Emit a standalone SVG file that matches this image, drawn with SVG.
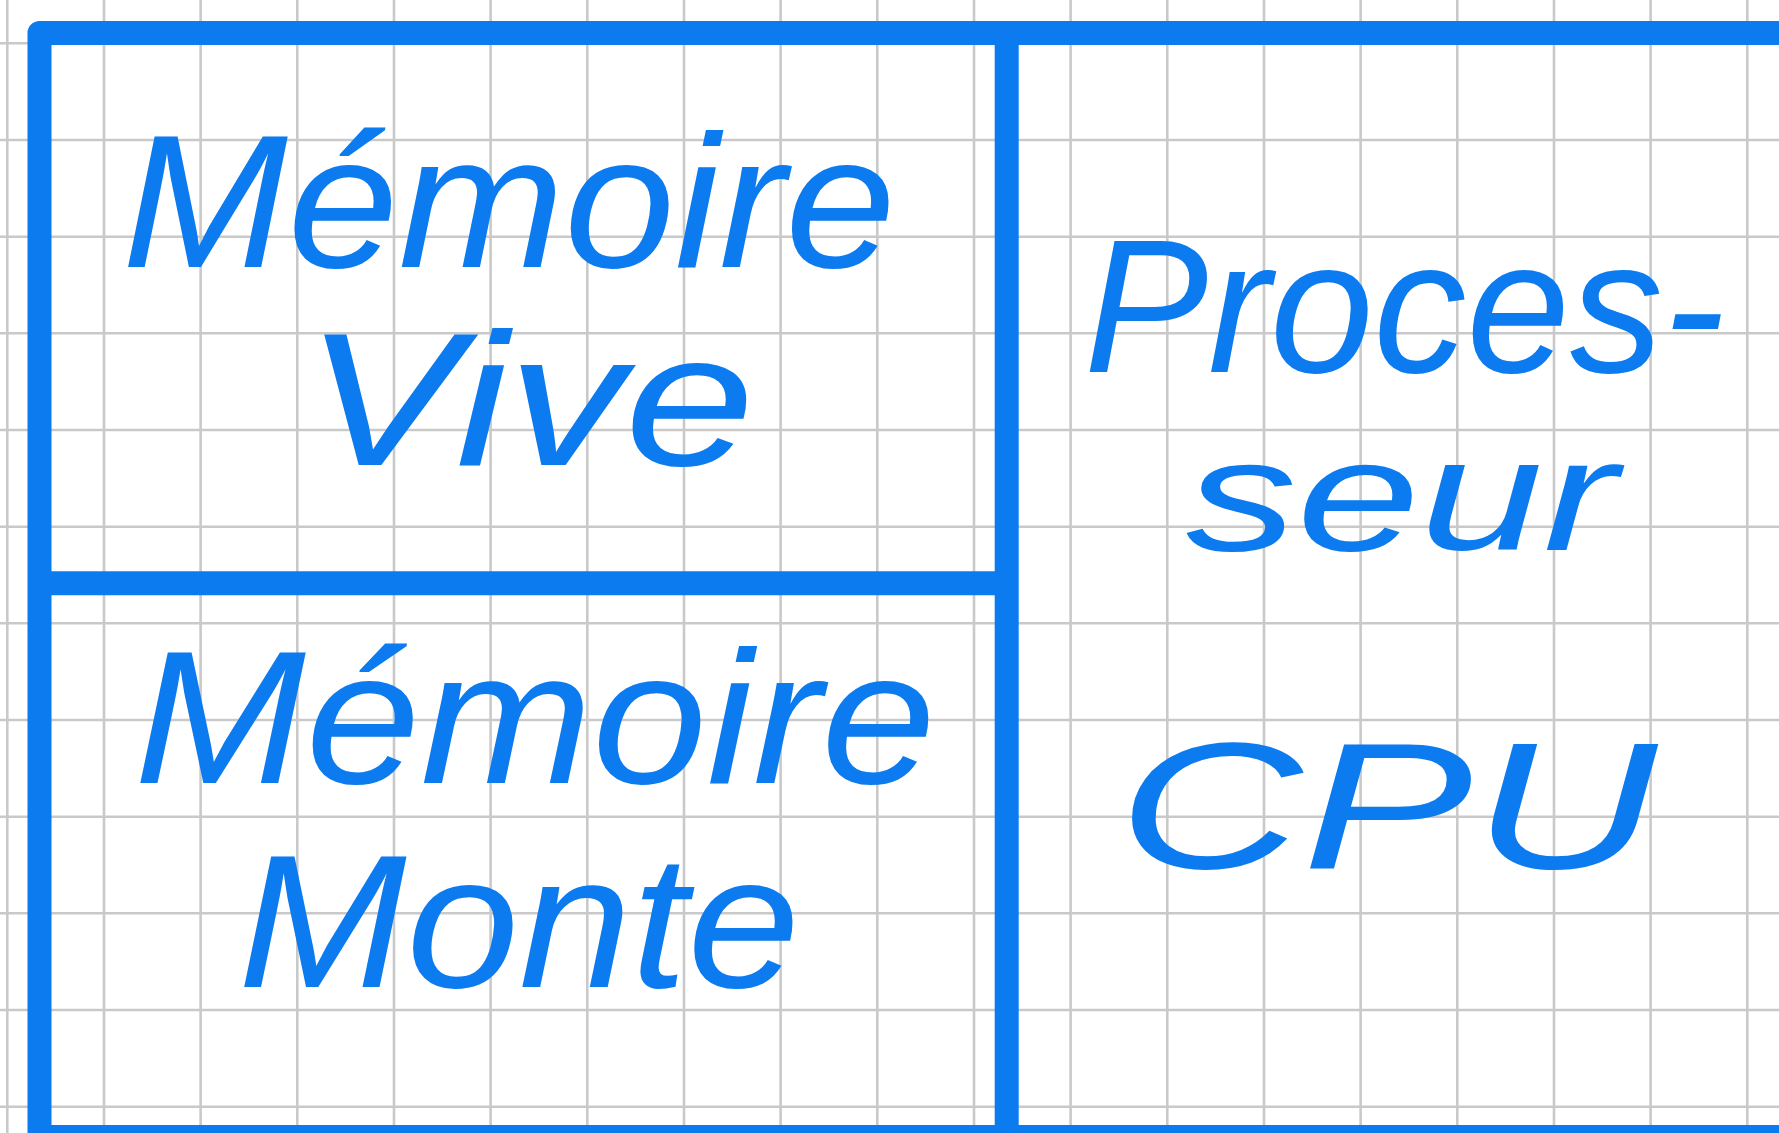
<svg xmlns="http://www.w3.org/2000/svg" width="1779" height="1133" viewBox="0 0 1779 1133">
<defs>
<style>
.grid line{stroke:#c9c9c9;stroke-width:2.6}
.bar{fill:none;stroke:#0b7bef;stroke-width:24;stroke-linecap:butt;stroke-linejoin:round}
.hw{font-family:"Liberation Sans","DejaVu Sans",sans-serif;font-style:italic;fill:#0b7bef;font-size:190px}
</style>
</defs>
<rect width="1779" height="1133" fill="#ffffff"/>
<g class="grid" id="grid">
<line x1="7.3" y1="0" x2="7.3" y2="1133"/>
<line x1="104" y1="0" x2="104" y2="1133"/>
<line x1="200.6" y1="0" x2="200.6" y2="1133"/>
<line x1="297.3" y1="0" x2="297.3" y2="1133"/>
<line x1="394" y1="0" x2="394" y2="1133"/>
<line x1="490.6" y1="0" x2="490.6" y2="1133"/>
<line x1="587.3" y1="0" x2="587.3" y2="1133"/>
<line x1="684" y1="0" x2="684" y2="1133"/>
<line x1="780.6" y1="0" x2="780.6" y2="1133"/>
<line x1="877.3" y1="0" x2="877.3" y2="1133"/>
<line x1="974" y1="0" x2="974" y2="1133"/>
<line x1="1070.6" y1="0" x2="1070.6" y2="1133"/>
<line x1="1167.3" y1="0" x2="1167.3" y2="1133"/>
<line x1="1264" y1="0" x2="1264" y2="1133"/>
<line x1="1360.6" y1="0" x2="1360.6" y2="1133"/>
<line x1="1457.3" y1="0" x2="1457.3" y2="1133"/>
<line x1="1554" y1="0" x2="1554" y2="1133"/>
<line x1="1650.6" y1="0" x2="1650.6" y2="1133"/>
<line x1="1747.3" y1="0" x2="1747.3" y2="1133"/>
<line x1="0" y1="43.3" x2="1779" y2="43.3"/>
<line x1="0" y1="140" x2="1779" y2="140"/>
<line x1="0" y1="236.7" x2="1779" y2="236.7"/>
<line x1="0" y1="333.3" x2="1779" y2="333.3"/>
<line x1="0" y1="430" x2="1779" y2="430"/>
<line x1="0" y1="526.7" x2="1779" y2="526.7"/>
<line x1="0" y1="623.3" x2="1779" y2="623.3"/>
<line x1="0" y1="720" x2="1779" y2="720"/>
<line x1="0" y1="816.7" x2="1779" y2="816.7"/>
<line x1="0" y1="913.3" x2="1779" y2="913.3"/>
<line x1="0" y1="1010" x2="1779" y2="1010"/>
<line x1="0" y1="1106.7" x2="1779" y2="1106.7"/>
</g>
<g id="frame">
<path class="bar" d="M39.5 1160 V33 H1800"/>
<path class="bar" d="M1006.7 33 V1160"/>
<path class="bar" d="M39.5 583.3 H1006.7"/>
<path class="bar" d="M39.5 1137 H1800"/>
</g>
<g id="ram">
<text class="hw" x="122" y="267" textLength="774" lengthAdjust="spacingAndGlyphs">Mémoire</text>
<text class="hw" x="304" y="465" textLength="451" lengthAdjust="spacingAndGlyphs">Vive</text>
</g>
<g id="rom">
<text class="hw" x="134" y="783" textLength="802" lengthAdjust="spacingAndGlyphs">Mémoire</text>
<text class="hw" x="238" y="987" textLength="562" lengthAdjust="spacingAndGlyphs">Monte</text>
</g>
<g id="cpu">
<text class="hw" x="1084" y="372" textLength="641" lengthAdjust="spacingAndGlyphs">Proces-</text>
<text class="hw" x="1186" y="550" textLength="431" lengthAdjust="spacingAndGlyphs" style="font-size:160px">seur</text>
<text class="hw" x="1118" y="868" textLength="539" lengthAdjust="spacingAndGlyphs" style="font-size:180px">CPU</text>
</g>
<g id="connectors"/>
</svg>
